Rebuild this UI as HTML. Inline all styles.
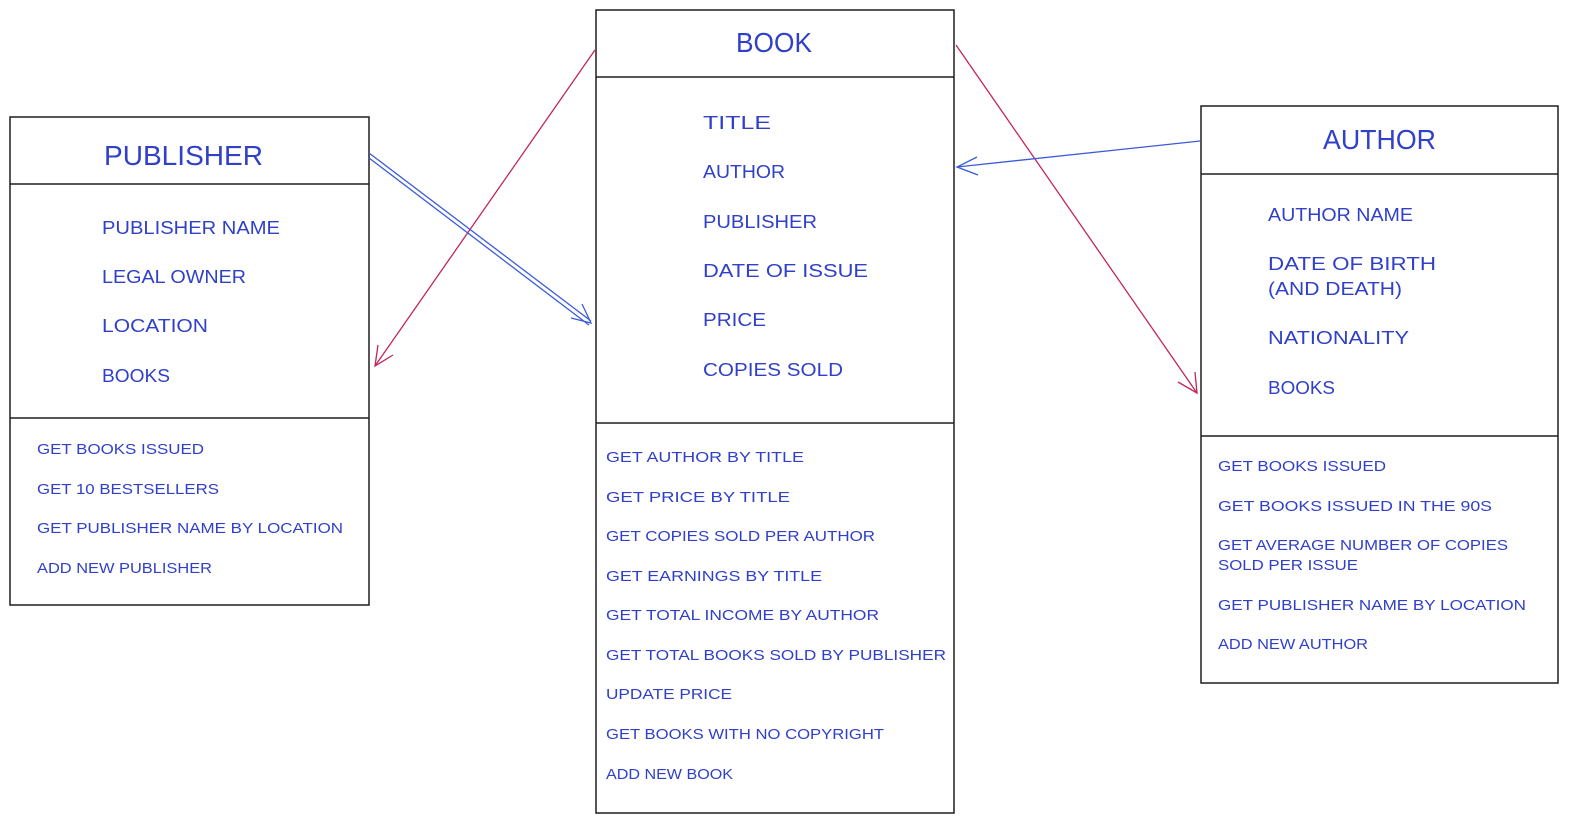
<!DOCTYPE html>
<html><head><meta charset="utf-8"><style>
html,body{margin:0;padding:0;background:#fff;}
svg{display:block;}
text{font-family:"Liberation Sans",sans-serif;fill:#3040c8;}
.t{font-size:28px;}
.a{font-size:18px;}
.m{font-size:15px;}
</style></head><body>
<svg width="1585" height="832" viewBox="0 0 1585 832" xmlns="http://www.w3.org/2000/svg">
<g fill="none" stroke="#1e1e1e" stroke-width="1.5">
<rect x="10" y="117" width="359" height="488"/>
<line x1="10" y1="184" x2="369" y2="184"/>
<line x1="10" y1="418" x2="369" y2="418"/>
<rect x="596" y="10" width="358" height="803"/>
<line x1="596" y1="77" x2="954" y2="77"/>
<line x1="596" y1="423" x2="954" y2="423"/>
<rect x="1201" y="106" width="357" height="577"/>
<line x1="1201" y1="174" x2="1558" y2="174"/>
<line x1="1201" y1="436" x2="1558" y2="436"/>
</g>
<g fill="none" stroke="#c2255c" stroke-width="1.3">
<line x1="595" y1="50" x2="375" y2="366"/>
<polyline points="378,345 375,366 393,355"/>
<line x1="956" y1="45" x2="1197" y2="393"/>
<polyline points="1178,382 1197,393 1195,372"/>
</g>
<g fill="none" stroke="#3b5bdb" stroke-width="1.3">
<line x1="369" y1="153" x2="591" y2="321"/>
<line x1="369" y1="158" x2="589" y2="325"/>
<polyline points="571,318 591,323 582,304"/>
<line x1="1200" y1="141" x2="957" y2="167"/>
<polyline points="977,157 957,167 978,175"/>
</g>
<text class="t" x="104" y="165" textLength="159" lengthAdjust="spacingAndGlyphs">PUBLISHER</text>
<text class="a" x="102" y="234" textLength="178" lengthAdjust="spacingAndGlyphs">PUBLISHER NAME</text>
<text class="a" x="102" y="283" textLength="144" lengthAdjust="spacingAndGlyphs">LEGAL OWNER</text>
<text class="a" x="102" y="332" textLength="106" lengthAdjust="spacingAndGlyphs">LOCATION</text>
<text class="a" x="102" y="382" textLength="68" lengthAdjust="spacingAndGlyphs">BOOKS</text>
<text class="m" x="37" y="454" textLength="167" lengthAdjust="spacingAndGlyphs">GET BOOKS ISSUED</text>
<text class="m" x="37" y="494" textLength="182" lengthAdjust="spacingAndGlyphs">GET 10 BESTSELLERS</text>
<text class="m" x="37" y="533" textLength="306" lengthAdjust="spacingAndGlyphs">GET PUBLISHER NAME BY LOCATION</text>
<text class="m" x="37" y="573" textLength="175" lengthAdjust="spacingAndGlyphs">ADD NEW PUBLISHER</text>

<text class="t" x="736" y="52" textLength="76" lengthAdjust="spacingAndGlyphs">BOOK</text>
<text class="a" x="703" y="129" textLength="68" lengthAdjust="spacingAndGlyphs">TITLE</text>
<text class="a" x="703" y="178" textLength="82" lengthAdjust="spacingAndGlyphs">AUTHOR</text>
<text class="a" x="703" y="228" textLength="114" lengthAdjust="spacingAndGlyphs">PUBLISHER</text>
<text class="a" x="703" y="277" textLength="165" lengthAdjust="spacingAndGlyphs">DATE OF ISSUE</text>
<text class="a" x="703" y="326" textLength="63" lengthAdjust="spacingAndGlyphs">PRICE</text>
<text class="a" x="703" y="376" textLength="140" lengthAdjust="spacingAndGlyphs">COPIES SOLD</text>
<text class="m" x="606" y="462" textLength="198" lengthAdjust="spacingAndGlyphs">GET AUTHOR BY TITLE</text>
<text class="m" x="606" y="502" textLength="184" lengthAdjust="spacingAndGlyphs">GET PRICE BY TITLE</text>
<text class="m" x="606" y="541" textLength="269" lengthAdjust="spacingAndGlyphs">GET COPIES SOLD PER AUTHOR</text>
<text class="m" x="606" y="581" textLength="216" lengthAdjust="spacingAndGlyphs">GET EARNINGS BY TITLE</text>
<text class="m" x="606" y="620" textLength="273" lengthAdjust="spacingAndGlyphs">GET TOTAL INCOME BY AUTHOR</text>
<text class="m" x="606" y="660" textLength="340" lengthAdjust="spacingAndGlyphs">GET TOTAL BOOKS SOLD BY PUBLISHER</text>
<text class="m" x="606" y="699" textLength="126" lengthAdjust="spacingAndGlyphs">UPDATE PRICE</text>
<text class="m" x="606" y="739" textLength="278" lengthAdjust="spacingAndGlyphs">GET BOOKS WITH NO COPYRIGHT</text>
<text class="m" x="606" y="779" textLength="127" lengthAdjust="spacingAndGlyphs">ADD NEW BOOK</text>

<text class="t" x="1323" y="149" textLength="113" lengthAdjust="spacingAndGlyphs">AUTHOR</text>
<text class="a" x="1268" y="221" textLength="145" lengthAdjust="spacingAndGlyphs">AUTHOR NAME</text>
<text class="a" x="1268" y="270" textLength="168" lengthAdjust="spacingAndGlyphs">DATE OF BIRTH</text>
<text class="a" x="1268" y="295" textLength="134" lengthAdjust="spacingAndGlyphs">(AND DEATH)</text>
<text class="a" x="1268" y="344" textLength="141" lengthAdjust="spacingAndGlyphs">NATIONALITY</text>
<text class="a" x="1268" y="394" textLength="67" lengthAdjust="spacingAndGlyphs">BOOKS</text>
<text class="m" x="1218" y="471" textLength="168" lengthAdjust="spacingAndGlyphs">GET BOOKS ISSUED</text>
<text class="m" x="1218" y="511" textLength="274" lengthAdjust="spacingAndGlyphs">GET BOOKS ISSUED IN THE 90S</text>
<text class="m" x="1218" y="550" textLength="290" lengthAdjust="spacingAndGlyphs">GET AVERAGE NUMBER OF COPIES</text>
<text class="m" x="1218" y="570" textLength="140" lengthAdjust="spacingAndGlyphs">SOLD PER ISSUE</text>
<text class="m" x="1218" y="610" textLength="308" lengthAdjust="spacingAndGlyphs">GET PUBLISHER NAME BY LOCATION</text>
<text class="m" x="1218" y="649" textLength="150" lengthAdjust="spacingAndGlyphs">ADD NEW AUTHOR</text>
</svg>
</body></html>
